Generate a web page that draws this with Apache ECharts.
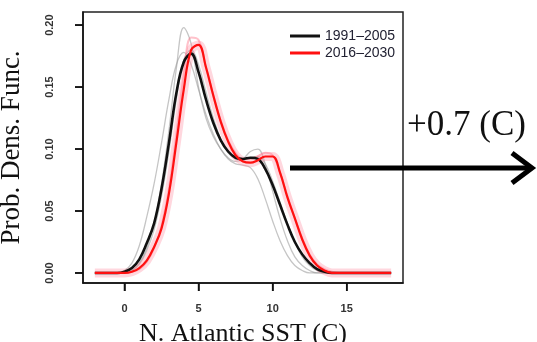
<!DOCTYPE html>
<html>
<head>
<meta charset="utf-8">
<script src="https://cdn.jsdelivr.net/npm/echarts@6/dist/echarts.min.js"></script>
<style>
  html, body { margin: 0; padding: 0; background: #fff; }
  #chart { width: 537px; height: 342px; }
</style>
</head>
<body>
<div id="chart"></div>
<script>
// SST grid (C)
const sst = [-2, -1.5, -1, -0.5, 0, 0.5, 1, 1.5, 2, 2.5, 3, 3.5, 4, 4.5, 5, 5.5, 6, 6.5, 7, 7.5,
    8, 8.5, 9, 9.5, 10, 10.5, 11, 11.5, 12, 12.5, 13, 13.5, 14, 14.5, 15, 15.5, 16, 16.5, 17, 17.5, 18]

// ensemble mean densities
const pdf1991 = [0, 0, 0, 0, 0.001, 0.004, 0.011, 0.024, 0.040, 0.068, 0.105, 0.145, 0.170, 0.177, 0.162, 0.140,
    0.121, 0.107, 0.098, 0.093, 0.092, 0.093, 0.092, 0.084, 0.071, 0.055, 0.039, 0.025, 0.015, 0.008,
    0.003, 0.001, 0, 0, 0, 0, 0, 0, 0, 0, 0]
const pdf2016 = [0, 0, 0, 0, 0, 0.001, 0.004, 0.010, 0.021, 0.036, 0.064, 0.105, 0.148, 0.180, 0.184, 0.166,
    0.143, 0.122, 0.106, 0.095, 0.090, 0.089, 0.091, 0.094, 0.094, 0.081, 0.061, 0.044, 0.027, 0.014,
    0.006, 0.002, 0, 0, 0, 0, 0, 0, 0, 0, 0]

// individual members (grey = 1991-2005, pink = 2016-2030)
const grey1 = [0, 0, 0, 0, 0, 0.002, 0.008, 0.020, 0.040, 0.072, 0.115, 0.165, 0.198, 0.185, 0.150, 0.125,
    0.110, 0.100, 0.093, 0.090, 0.092, 0.098, 0.100, 0.088, 0.066, 0.044, 0.026, 0.013, 0.006, 0.002,
    0, 0, 0, 0, 0, 0, 0, 0, 0, 0, 0]
const grey2 = [0, 0, 0, 0, 0.002, 0.008, 0.022, 0.045, 0.072, 0.105, 0.140, 0.168, 0.178, 0.168, 0.148, 0.128,
    0.112, 0.100, 0.092, 0.088, 0.087, 0.085, 0.076, 0.060, 0.042, 0.026, 0.014, 0.006, 0.002, 0,
    0, 0, 0, 0, 0, 0, 0, 0, 0, 0, 0]
const grey3 = [0, 0, 0, 0, 0, 0.002, 0.007, 0.018, 0.035, 0.062, 0.098, 0.140, 0.172, 0.180, 0.168, 0.146,
    0.125, 0.108, 0.097, 0.092, 0.091, 0.093, 0.094, 0.088, 0.074, 0.057, 0.040, 0.025, 0.013, 0.006,
    0.002, 0, 0, 0, 0, 0, 0, 0, 0, 0, 0]
const pink1 = [0, 0, 0, 0, 0, 0.001, 0.003, 0.009, 0.020, 0.038, 0.068, 0.112, 0.160, 0.190, 0.188, 0.166,
    0.143, 0.123, 0.107, 0.097, 0.092, 0.092, 0.094, 0.097, 0.095, 0.081, 0.062, 0.044, 0.028, 0.015,
    0.007, 0.003, 0.001, 0, 0, 0, 0, 0, 0, 0, 0]

const xTicks = [0, 5, 10, 15]
const yTicks = [0, 0.05, 0.1, 0.15, 0.2]
const periods = ['1991\u20132005', '2016\u20132030']

const X_MIN = -2.8, X_MAX = 18.8
const Y_MIN = -0.0081, Y_MAX = 0.2106

const pts = (vals) => sst.map((x, i) => [x, vals[i]])

const chart = echarts.init(document.getElementById('chart'), null, { renderer: 'canvas' })

const curve = (name, vals, color, width, z) => ({
    name,
    type: 'line',
    data: pts(vals),
    smooth: 0.4,
    showSymbol: false,
    lineStyle: { color, width },
    itemStyle: { color },
    z,
    silent: true,
})

const labelFont = { fontFamily: 'Liberation Sans', fontSize: 11, fontWeight: 'bold', color: '#333' }
const tickStyle = { color: '#111', width: 1.5 }

chart.setOption({
    animation: false,
    grid: {
        left: 83, top: 12, width: 320, height: 271,
        containLabel: false,
        outerBoundsMode: 'none',
        show: true, borderColor: '#222', borderWidth: 1.5,
    },
    legend: {
        data: periods,
        orient: 'vertical',
        left: 285, top: 24,
        itemWidth: 30, itemHeight: 3, itemGap: 3,
        icon: 'rect',
        textStyle: { fontFamily: 'Liberation Sans', fontSize: 14, color: '#223' },
    },
    xAxis: {
        type: 'value', min: X_MIN, max: X_MAX,
        splitLine: { show: false },
        axisLine: { show: true, onZero: false, lineStyle: tickStyle },
        axisTick: { show: true, customValues: xTicks, length: 8, lineStyle: tickStyle },
        axisLabel: { customValues: xTicks, margin: 20, ...labelFont },
        name: 'N. Atlantic SST (C)',
        nameLocation: 'middle', nameGap: 38,
        nameTextStyle: { fontFamily: 'Liberation Serif', fontSize: 26, color: '#111' },
    },
    yAxis: {
        type: 'value', min: Y_MIN, max: Y_MAX,
        splitLine: { show: false },
        axisLine: { show: true, onZero: false, lineStyle: tickStyle },
        axisTick: { show: true, customValues: yTicks, length: 8, lineStyle: tickStyle },
        axisLabel: {
            customValues: yTicks, margin: 28, rotate: 90,
            formatter: (v) => v.toFixed(2),
            ...labelFont,
        },
        name: 'Prob. Dens. Func.',
        nameLocation: 'middle', nameGap: 58,
        nameTextStyle: { fontFamily: 'Liberation Serif', fontSize: 27, color: '#111' },
    },
    series: [
        curve('g1', grey1, 'rgba(150,150,150,0.55)', 1.3, 1),
        curve('g2', grey2, 'rgba(150,150,150,0.55)', 1.3, 1),
        curve('g3', grey3, 'rgba(150,150,150,0.55)', 1.3, 1),
        curve('halo', pdf2016, 'rgba(255,140,160,0.35)', 9, 2),
        curve('p1', pink1, 'rgba(255,120,140,0.45)', 2, 2),
        curve(periods[0], pdf1991, '#111', 2.6, 3),
        curve(periods[1], pdf2016, '#ff1010', 2.2, 4),
    ],
})

// outward tick marks again as graphics, positioned through the chart's own scales
const tickLine = (a, b) => ({
    type: 'line', z: 100,
    shape: { x1: a[0], y1: a[1], x2: b[0], y2: b[1] },
    style: { stroke: '#111', lineWidth: 1.5 },
})
const ticks = []
xTicks.forEach((v) => {
    const p = chart.convertToPixel({ gridIndex: 0 }, [v, Y_MIN])
    if (p) ticks.push(tickLine(p, [p[0], p[1] + 8]))
})
yTicks.forEach((v) => {
    const p = chart.convertToPixel({ gridIndex: 0 }, [X_MIN, v])
    if (p) ticks.push(tickLine(p, [p[0] - 8, p[1]]))
})

chart.setOption({
    graphic: ticks.concat([
        {
            type: 'line', z: 50,
            shape: { x1: 290, y1: 168, x2: 530, y2: 168 },
            style: { stroke: '#000', lineWidth: 5 },
        },
        {
            type: 'polyline', z: 50,
            shape: { points: [[512, 153], [532, 168], [512, 183]] },
            style: { stroke: '#000', lineWidth: 5, fill: null, lineJoin: 'miter' },
        },
        {
            type: 'text', z: 50, left: 407, top: 108,
            style: { text: '+0.7 (C)', fontFamily: 'Liberation Serif', fontSize: 35, fill: '#111' },
        },
    ]),
})
</script>
</body>
</html>
